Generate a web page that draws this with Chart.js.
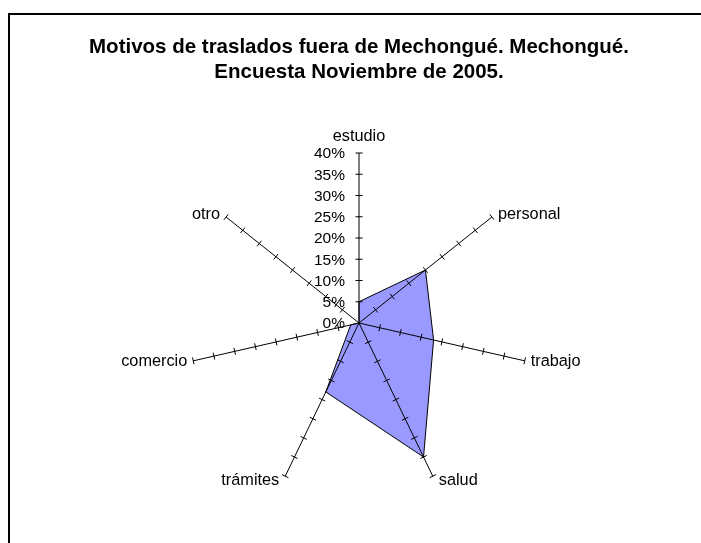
<!DOCTYPE html>
<html>
<head>
<meta charset="utf-8">
<script src="https://cdn.jsdelivr.net/npm/chart.js@4.4.1/dist/chart.umd.min.js"></script>
<style>
  html, body { margin: 0; padding: 0; background: #fff; }
  #wrap { position: relative; width: 701px; height: 543px; overflow: hidden; }
  #frame { position: absolute; left: 8px; top: 13px; width: 800px; height: 700px;
           border-top: 2px solid #000; border-left: 2px solid #000; box-sizing: border-box; }
  #c { position: absolute; left: 0; top: 0; }
</style>
</head>
<body>
<div id="wrap">
  <div id="frame"></div>
  <canvas id="c" width="701" height="543"></canvas>
</div>
<script>
const categories = ['estudio', 'personal', 'trabajo', 'salud', 'trámites', 'comercio', 'otro'];
const seriesValues = [5, 20, 18, 35, 18, 2, 0];
const tickValues = [0, 5, 10, 15, 20, 25, 30, 35, 40];
const tickLabels = ['0%', '5%', '10%', '15%', '20%', '25%', '30%', '35%', '40%'];
const titleLines = ['Motivos de traslados fuera de Mechongué. Mechongué.', 'Encuesta Noviembre de 2005.'];

const FONT = '"Liberation Sans", Arial, Helvetica, sans-serif';

const radarDecor = {
  id: 'radarDecor',
  afterDraw(chart) {
    const s = chart.scales.r;
    const ctx = chart.ctx;
    const n = chart.data.labels.length;
    ctx.save();
    // tick marks crossing every spoke
    ctx.strokeStyle = '#000';
    ctx.lineWidth = 1;
    for (let i = 0; i < n; i++) {
      const a = s.getIndexAngle(i) - Math.PI / 2;
      const px = -Math.sin(a), py = Math.cos(a);
      s.ticks.forEach(t => {
        if (t.value <= 0) return;
        const p = s.getPointPositionForValue(i, t.value);
        ctx.beginPath();
        ctx.moveTo(p.x - px * 3.5, p.y - py * 3.5);
        ctx.lineTo(p.x + px * 3.5, p.y + py * 3.5);
        ctx.stroke();
      });
    }
    // value labels along the first spoke
    ctx.fillStyle = '#000';
    ctx.font = '15.5px ' + FONT;
    ctx.textAlign = 'right';
    ctx.textBaseline = 'middle';
    s.ticks.forEach((t, k) => {
      const p = s.getPointPositionForValue(0, t.value);
      const idx = tickValues.indexOf(t.value);
      ctx.fillText(tickLabels[idx >= 0 ? idx : k], p.x - 14, p.y + 1);
    });
    // category labels
    ctx.font = '16.3px ' + FONT;
    for (let i = 0; i < n; i++) {
      const p = s.getPointPosition(i, s.drawingArea);
      const ang = s.getIndexAngle(i);
      const label = chart.data.labels[i];
      if (i === 0) {
        ctx.textAlign = 'center';
        ctx.textBaseline = 'alphabetic';
        ctx.fillText(label, p.x, p.y - 12);
      } else {
        const right = Math.sin(ang) > 0;
        ctx.textAlign = right ? 'left' : 'right';
        ctx.textBaseline = 'middle';
        ctx.fillText(label, p.x + (right ? 6 : -6), p.y - 4.5 * Math.cos(ang));
      }
    }
    ctx.restore();
  }
};

new Chart(document.getElementById('c'), {
  type: 'radar',
  data: {
    labels: categories,
    datasets: [{
      data: seriesValues,
      backgroundColor: '#9999ff',
      borderColor: '#000000',
      borderWidth: 1,
      pointRadius: 0,
      pointHoverRadius: 0,
      tension: 0,
      fill: true
    }]
  },
  options: {
    responsive: false,
    animation: false,
    devicePixelRatio: 1,
    layout: { padding: { left: 17, right: 0, top: 0, bottom: 49 } },
    plugins: {
      legend: { display: false },
      tooltip: { enabled: false },
      title: {
        display: true,
        text: titleLines,
        color: '#000',
        font: { family: FONT, size: 20.5, weight: 'bold', lineHeight: 1.22 },
        padding: { top: 35, bottom: 67 }
      }
    },
    scales: {
      r: {
        min: 0,
        max: 40,
        ticks: { stepSize: 5, display: false },
        grid: { display: false, z: 1 },
        angleLines: { display: true, color: '#000', lineWidth: 1 },
        pointLabels: { display: false }
      }
    }
  },
  plugins: [radarDecor]
});
</script>
</body>
</html>
